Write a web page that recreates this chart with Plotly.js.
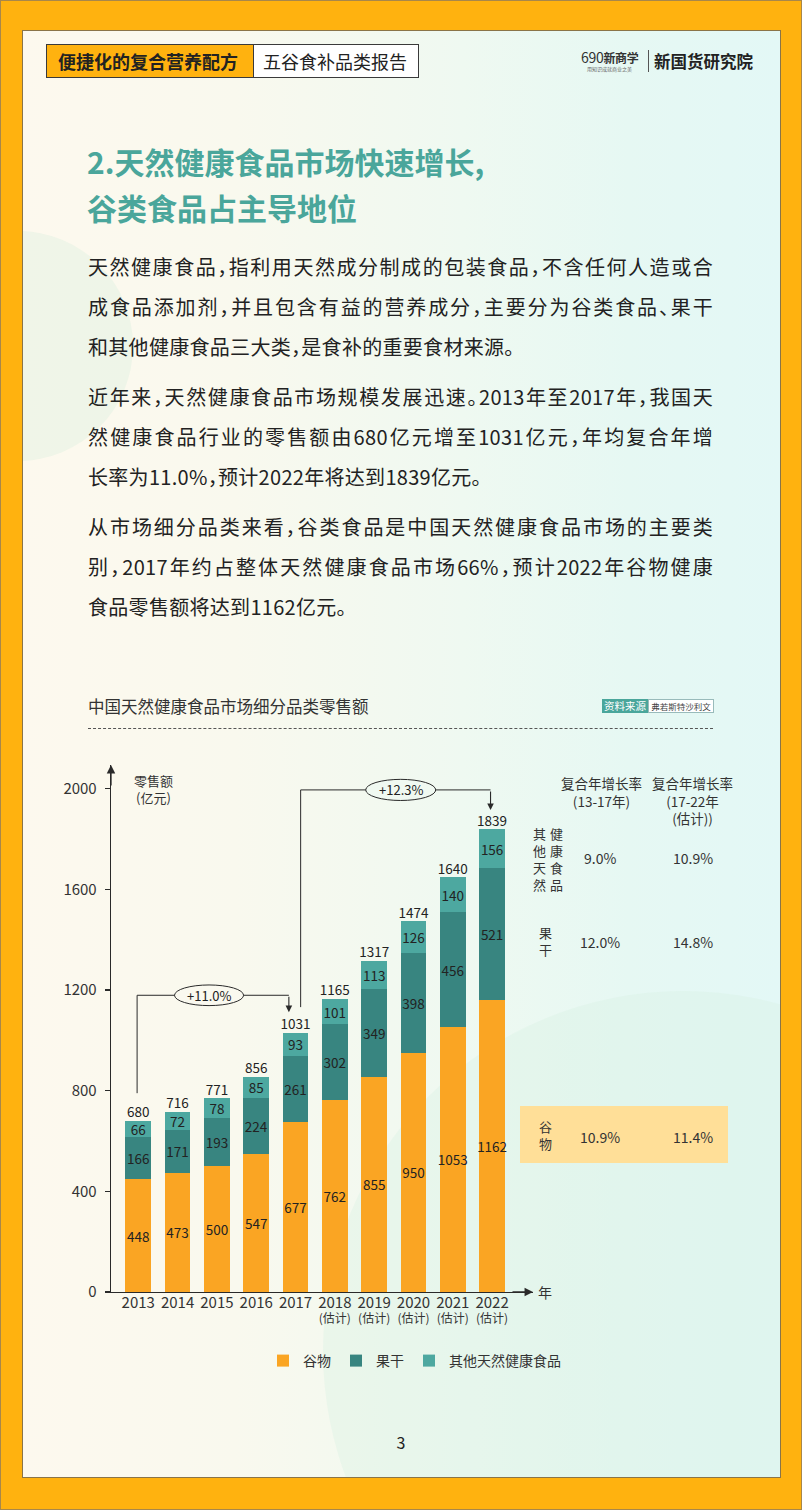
<!DOCTYPE html>
<html><head><meta charset="utf-8">
<script src="https://cdn.plot.ly/plotly-3.0.1.min.js"></script>
<style>
html,body{margin:0;padding:0;}
body{width:802px;height:1510px;position:relative;overflow:hidden;background:#FFB20F;font-family:"Noto Sans CJK SC","Noto Sans",sans-serif;color:#222;box-shadow:inset 0 0 0 1px #a8874a;}
.abs{position:absolute;white-space:nowrap;}
#panel{position:absolute;left:22px;top:30px;width:757px;height:1446px;border:1px solid #8a7448;background:linear-gradient(90deg,#FDF9EE 0%,#F9F9EE 28%,#EFF9F1 58%,#E6F8F3 80%,#E3F8F6 100%);overflow:hidden;}
.deco1{position:absolute;left:-120px;top:200px;width:230px;height:230px;border-radius:50%;background:rgba(214,238,222,0.35);}
.deco2{position:absolute;left:300px;top:960px;width:720px;height:720px;border-radius:50%;background:rgba(214,240,226,0.35);}
.hdr{position:absolute;left:46px;top:44px;width:371px;height:32px;border:1px solid #3a3a3a;background:#fff;}
.hdr .o{position:absolute;left:0;top:0;width:206px;height:32px;background:#FFB20F;border-right:1px solid #3a3a3a;font-weight:700;font-size:18px;line-height:32px;text-indent:11px;color:#222;}
.hdr .w{position:absolute;left:216px;top:0;height:32px;font-size:18px;line-height:32px;color:#222;}
.ttl{position:absolute;left:87px;font-size:30px;font-weight:700;color:#4AA69B;line-height:46px;white-space:nowrap;}
.ln{position:absolute;left:88px;width:625px;font-size:20px;line-height:40px;text-align:justify;text-align-last:justify;white-space:nowrap;color:#222;letter-spacing:0.3px;font-feature-settings:"halt";}
.ln.last{text-align-last:left;}
#chart{position:absolute;left:0;top:680px;width:802px;height:720px;}
</style></head>
<body>
<div id="panel"><div class="deco1"></div><div class="deco2"></div></div>

<div class="hdr"><div class="o">便捷化的复合营养配方</div><div class="w">五谷食补品类报告</div></div>
<div class="abs" style="left:581px;top:50px;font-size:14px;line-height:15px;color:#333;letter-spacing:-0.3px;">690<span style="font-size:12px;font-weight:700;">新商学</span></div>
<div class="abs" style="left:587px;top:66px;font-size:5px;line-height:6px;color:#666;">用知识成就商业之美</div>
<div class="abs" style="left:648px;top:50px;width:1px;height:22px;background:#555;"></div>
<div class="abs" style="left:654px;top:49px;font-size:16.5px;line-height:24px;font-weight:700;color:#222;">新国货研究院</div>

<div class="ttl" style="top:138px;">2.天然健康食品市场快速增长,</div>
<div class="ttl" style="top:184px;">谷类食品占主导地位</div>

<div class="ln" style="top:247px;">天然健康食品，指利用天然成分制成的包装食品，不含任何人造或合</div>
<div class="ln" style="top:287px;">成食品添加剂，并且包含有益的营养成分，主要分为谷类食品、果干</div>
<div class="ln last" style="top:327px;">和其他健康食品三大类，是食补的重要食材来源。</div>
<div class="ln" style="top:377px;">近年来，天然健康食品市场规模发展迅速。2013年至2017年，我国天</div>
<div class="ln" style="top:417px;">然健康食品行业的零售额由680亿元增至1031亿元，年均复合年增</div>
<div class="ln last" style="top:457px;">长率为11.0%，预计2022年将达到1839亿元。</div>
<div class="ln" style="top:507px;">从市场细分品类来看，谷类食品是中国天然健康食品市场的主要类</div>
<div class="ln" style="top:547px;">别，2017年约占整体天然健康食品市场66%，预计2022年谷物健康</div>
<div class="ln last" style="top:587px;">食品零售额将达到1162亿元。</div>

<div class="abs" style="left:88px;top:694px;font-size:16.5px;line-height:24px;color:#333;">中国天然健康食品市场细分品类零售额</div>
<div class="abs" style="left:602px;top:699px;width:46px;height:14px;background:#4AA69B;color:#fff;font-size:10.5px;line-height:14px;text-align:center;">资料来源</div>
<div class="abs" style="left:648px;top:699px;width:64px;height:12px;border:1px solid #9bb;background:#fff;color:#444;font-size:8.5px;line-height:12px;text-align:center;">弗若斯特沙利文</div>
<div class="abs" style="left:88px;top:728px;width:625px;height:0;border-top:1px dashed #555;"></div>

<div id="chart"></div>

<div class="abs" style="left:394px;top:1431px;width:14px;text-align:center;font-size:16px;line-height:22px;color:#222;">3</div>

<script>
// ---- data ----
const years = ['2013','2014','2015','2016','2017','2018','2019','2020','2021','2022'];
const estimated = [false,false,false,false,false,true,true,true,true,true];
const grain = [448,473,500,547,677,762,855,950,1053,1162];
const driedFruit = [166,171,193,224,261,302,349,398,456,521];
const otherFood = [66,72,78,85,93,101,113,126,140,156];
const totals = [680,716,771,856,1031,1165,1317,1474,1640,1839];
const seriesNames = ['谷物','果干','其他天然健康食品'];
const seriesColors = ['#FAA523','#388580','#4DA8A0'];
const yTicks = [0,400,800,1200,1600,2000];
const growthLabels = ['+11.0%','+12.3%'];
const cagrRowLabels = ['其他天然健康食品','果干','谷物'];
const cagr1317 = ['9.0%','12.0%','10.9%'];
const cagr1722 = ['10.9%','14.8%','11.4%'];
const cagrHeaders = [['复合年增长率','(13-17年)'],['复合年增长率','(17-22年','(估计))']];
const yUnit = ['零售额','(亿元)'];
const xUnit = '年';

// ---- geometry helpers (page pixels -> paper) ----
const DIV_TOP = 680, PLOT_L = 111, PLOT_W = 422, PLOT_B = 1292, PLOT_H = 527;
const PX = x => (x - PLOT_L) / PLOT_W;
const PY = y => (PLOT_B - y) / PLOT_H;
const idx = years.map((_, i) => i);
const XR = [-0.694, 10.04], YR = [0, 2094];

const series = [grain, driedFruit, otherFood];
const traces = series.map((vals, k) => ({
  type: 'bar', x: idx, y: vals, name: seriesNames[k], width: 0.655,
  marker: {color: seriesColors[k], line: {width: 0}},
  text: vals.map(String), texttemplate: '%{text}', textposition: 'inside',
  insidetextanchor: 'middle', constraintext: 'none', textangle: 0,
  textfont: {size: 13.5, color: '#222'}, hoverinfo: 'skip'
}));
const stackTop = idx.map(i => grain[i] + driedFruit[i] + otherFood[i]);
traces.push({
  type: 'scatter', mode: 'text', x: idx, y: stackTop.map((s, i) => Math.max(s, totals[i])),
  text: totals.map(String), textposition: 'top center', cliponaxis: false,
  textfont: {size: 13.5, color: '#222'}, showlegend: false, hoverinfo: 'skip'
});

const tickText = years.map((y, i) => estimated[i]
  ? `<span style="font-size:15px">${y}</span><br>(估计)`
  : `<span style="font-size:15px">${y}</span>`);

const LC = '#2a2a2a';
const shapes = [
  {type:'line', xref:'x', yref:'y', x0:-0.03, x1:-0.03, y0:790, y1:1179, line:{color:LC,width:1}},
  {type:'line', xref:'x', yref:'y', x0:-0.03, x1:3.83, y0:1179, y1:1179, line:{color:LC,width:1}},
  {type:'circle', xref:'x', yref:'y', x0:1.80-0.878, x1:1.80+0.878, y0:1179-41, y1:1179+41, fillcolor:'#FAF9EF', line:{color:LC,width:1}},
  {type:'line', xref:'x', yref:'y', x0:4.13, x1:4.13, y0:1132, y1:1995, line:{color:LC,width:1}},
  {type:'line', xref:'x', yref:'y', x0:4.13, x1:8.96, y0:1995, y1:1995, line:{color:LC,width:1}},
  {type:'circle', xref:'x', yref:'y', x0:6.675-0.89, x1:6.675+0.89, y0:1995-42, y1:1995+42, fillcolor:'#F0F9F1', line:{color:LC,width:1}},
  {type:'rect', xref:'paper', yref:'paper', x0:PX(520), x1:PX(728), y0:PY(1163), y1:PY(1106), fillcolor:'#FFDF98', line:{width:0}, layer:'below'}
];

const ann = [];
const T = (text, x, y, size, extra) => ann.push(Object.assign({text, x:PX(x), y:PY(y), xref:'paper', yref:'paper', showarrow:false, font:{size, color:'#333'}, xanchor:'center', yanchor:'middle'}, extra||{}));
ann.push({text:'', xref:'x', yref:'y', x:XR[0], y:YR[1], axref:'pixel', ayref:'pixel', ax:0, ay:22, showarrow:true, arrowhead:2, arrowsize:1.3, arrowwidth:1.3, arrowcolor:LC});
ann.push({text:'', xref:'x', yref:'y', x:XR[1], y:0, ax:-22, ay:0, showarrow:true, arrowhead:2, arrowsize:1.3, arrowwidth:1.3, arrowcolor:LC});
ann.push({text:'', xref:'x', yref:'y', x:3.83, y:1112, axref:'x', ayref:'y', ax:3.83, ay:1179, showarrow:true, arrowhead:2, arrowsize:1.2, arrowwidth:1.1, arrowcolor:LC});
ann.push({text:'', xref:'x', yref:'y', x:8.96, y:1915, axref:'x', ayref:'y', ax:8.96, ay:1995, showarrow:true, arrowhead:2, arrowsize:1.2, arrowwidth:1.1, arrowcolor:LC});
ann.push({text:growthLabels[0], xref:'x', yref:'y', x:1.80, y:1179, showarrow:false, font:{size:13,color:'#222'}});
ann.push({text:growthLabels[1], xref:'x', yref:'y', x:6.675, y:1995, showarrow:false, font:{size:13,color:'#222'}});
T(yUnit.join('<br>'), 153, 789, 13);
T(xUnit, 545, 1292, 14);
T(cagrHeaders[0].join('<br>'), 601, 792, 13.5);
T(cagrHeaders[1].join('<br>'), 692, 800, 13.5);
const other = cagrRowLabels[0].split('');
T(other.slice(0,4).join('<br>'), 539, 859, 13);
T(other.slice(4).join('<br>'), 556, 859, 13);
T(cagrRowLabels[1].split('').join('<br>'), 545, 941, 13);
T(cagrRowLabels[2].split('').join('<br>'), 545, 1135, 13);
const rowY = [858, 942, 1137];
rowY.forEach((y, r) => { T(cagr1317[r], 600, y, 14); T(cagr1722[r], 693, y, 14); });

const layout = {
  width: 802, height: 720,
  margin: {l: PLOT_L, r: 802 - PLOT_L - PLOT_W, t: PLOT_B - PLOT_H - DIV_TOP, b: DIV_TOP + 720 - PLOT_B, pad: 0},
  paper_bgcolor: 'rgba(0,0,0,0)', plot_bgcolor: 'rgba(0,0,0,0)',
  font: {family: '"Noto Sans CJK SC", "Noto Sans", sans-serif', color: '#222'},
  barmode: 'stack', showlegend: true,
  xaxis: {range: XR, tickmode: 'array', tickvals: idx, ticktext: tickText, showgrid: false, zeroline: false,
          showline: true, linecolor: LC, linewidth: 1.3, ticks: '', tickfont: {size: 12, color: '#333'}, fixedrange: true},
  yaxis: {range: YR, tickmode: 'array', tickvals: yTicks, ticktext: yTicks.map(String), showgrid: false, zeroline: false,
          showline: true, linecolor: LC, linewidth: 1.3, ticks: 'outside', ticklen: 5, tickcolor: LC, tickwidth: 1.2,
          tickfont: {size: 15, color: '#333'}, ticklabelstandoff: 5, fixedrange: true},
  legend: {orientation: 'h', x: PX(263), xanchor: 'left', y: PY(1361), yanchor: 'middle', traceorder: 'normal',
           font: {size: 14, color: '#333'}, bgcolor: 'rgba(0,0,0,0)', itemwidth: 30},
  shapes, annotations: ann
};
Plotly.newPlot('chart', traces, layout, {staticPlot: true, displayModeBar: false});
</script>
</body></html>
